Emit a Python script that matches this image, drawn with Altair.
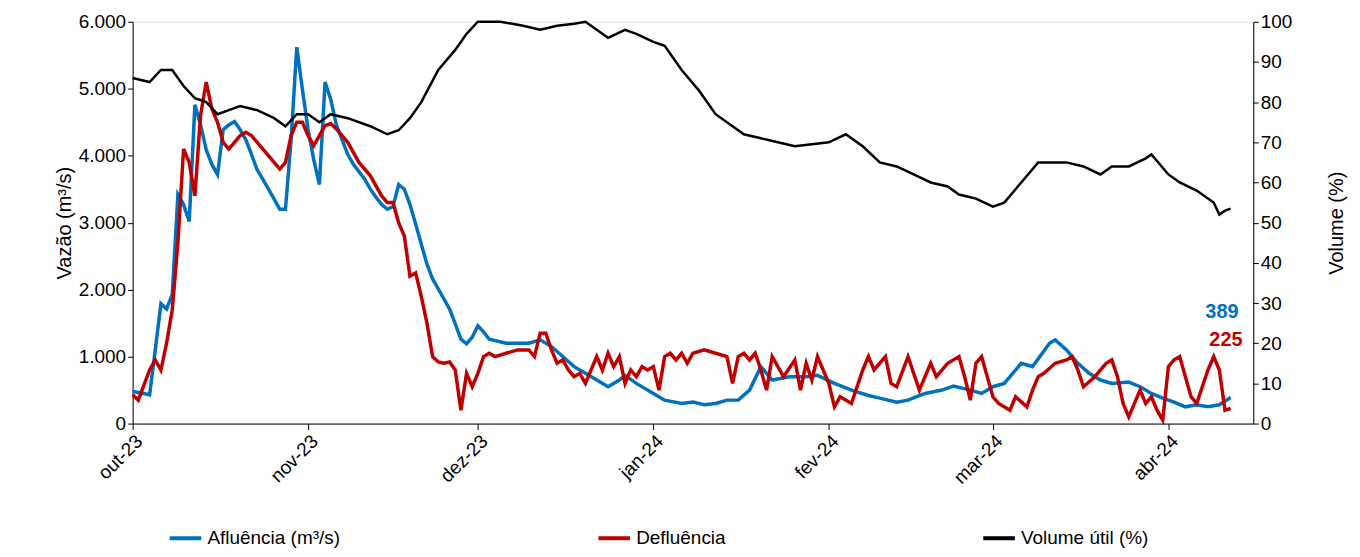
import altair as alt
import pandas as pd

afl_dates = ["2023-10-01","2023-10-03","2023-10-04","2023-10-05","2023-10-06","2023-10-07","2023-10-08","2023-10-09","2023-10-10","2023-10-11","2023-10-12","2023-10-13","2023-10-14","2023-10-15","2023-10-16","2023-10-17","2023-10-18","2023-10-19","2023-10-20","2023-10-21","2023-10-22","2023-10-23","2023-10-24","2023-10-25","2023-10-26","2023-10-27","2023-10-28","2023-10-29","2023-10-30","2023-10-31","2023-11-01","2023-11-02","2023-11-03","2023-11-04","2023-11-05","2023-11-06","2023-11-07","2023-11-08","2023-11-09","2023-11-10","2023-11-11","2023-11-12","2023-11-13","2023-11-14","2023-11-15","2023-11-16","2023-11-17","2023-11-18","2023-11-19","2023-11-20","2023-11-21","2023-11-22","2023-11-23","2023-11-24","2023-11-25","2023-11-26","2023-11-27","2023-11-28","2023-11-29","2023-11-30","2023-12-01","2023-12-02","2023-12-03","2023-12-06","2023-12-10","2023-12-12","2023-12-14","2023-12-18","2023-12-20","2023-12-22","2023-12-24","2023-12-26","2023-12-27","2023-12-29","2024-01-01","2024-01-03","2024-01-06","2024-01-08","2024-01-10","2024-01-12","2024-01-14","2024-01-16","2024-01-18","2024-01-20","2024-01-22","2024-01-25","2024-01-28","2024-01-30","2024-02-02","2024-02-05","2024-02-08","2024-02-10","2024-02-13","2024-02-15","2024-02-18","2024-02-21","2024-02-23","2024-02-26","2024-02-28","2024-03-01","2024-03-03","2024-03-06","2024-03-08","2024-03-11","2024-03-12","2024-03-14","2024-03-16","2024-03-18","2024-03-20","2024-03-22","2024-03-25","2024-03-27","2024-03-29","2024-03-31","2024-04-02","2024-04-04","2024-04-06","2024-04-08","2024-04-10","2024-04-12"]
afl_vals = [480,450,430,1100,1790,1710,1930,3420,3270,3020,4760,4460,4090,3870,3720,4390,4460,4510,4390,4240,4020,3790,3650,3500,3350,3200,3200,4240,5620,4990,4390,3940,3570,5100,4840,4460,4240,4020,3870,3760,3650,3500,3380,3270,3200,3240,3570,3500,3270,2980,2680,2380,2160,2010,1860,1710,1490,1260,1190,1290,1460,1370,1260,1200,1200,1250,1150,850,750,650,550,650,720,600,450,350,300,320,280,300,350,350,500,850,650,700,700,720,600,500,420,380,320,350,450,500,560,500,450,550,600,900,850,1200,1250,1100,900,750,650,600,620,550,450,380,320,250,280,250,280,389]

def_dates = ["2023-10-01","2023-10-02","2023-10-04","2023-10-05","2023-10-06","2023-10-07","2023-10-08","2023-10-09","2023-10-10","2023-10-11","2023-10-12","2023-10-13","2023-10-14","2023-10-15","2023-10-16","2023-10-17","2023-10-18","2023-10-19","2023-10-20","2023-10-21","2023-10-22","2023-10-23","2023-10-25","2023-10-27","2023-10-28","2023-10-29","2023-10-30","2023-10-31","2023-11-01","2023-11-02","2023-11-03","2023-11-04","2023-11-05","2023-11-06","2023-11-08","2023-11-10","2023-11-12","2023-11-14","2023-11-15","2023-11-16","2023-11-17","2023-11-18","2023-11-19","2023-11-20","2023-11-21","2023-11-22","2023-11-23","2023-11-24","2023-11-25","2023-11-26","2023-11-27","2023-11-28","2023-11-29","2023-11-30","2023-12-01","2023-12-02","2023-12-03","2023-12-04","2023-12-06","2023-12-08","2023-12-10","2023-12-11","2023-12-12","2023-12-13","2023-12-14","2023-12-15","2023-12-16","2023-12-17","2023-12-18","2023-12-19","2023-12-20","2023-12-22","2023-12-23","2023-12-24","2023-12-25","2023-12-26","2023-12-27","2023-12-28","2023-12-29","2023-12-30","2023-12-31","2024-01-01","2024-01-02","2024-01-03","2024-01-04","2024-01-05","2024-01-06","2024-01-07","2024-01-08","2024-01-10","2024-01-12","2024-01-14","2024-01-15","2024-01-16","2024-01-17","2024-01-18","2024-01-19","2024-01-20","2024-01-21","2024-01-22","2024-01-24","2024-01-26","2024-01-27","2024-01-28","2024-01-29","2024-01-30","2024-02-01","2024-02-02","2024-02-03","2024-02-05","2024-02-07","2024-02-08","2024-02-09","2024-02-11","2024-02-12","2024-02-13","2024-02-15","2024-02-17","2024-02-19","2024-02-20","2024-02-22","2024-02-24","2024-02-25","2024-02-26","2024-02-27","2024-02-28","2024-02-29","2024-03-01","2024-03-02","2024-03-04","2024-03-05","2024-03-07","2024-03-08","2024-03-09","2024-03-10","2024-03-12","2024-03-14","2024-03-15","2024-03-16","2024-03-17","2024-03-19","2024-03-21","2024-03-22","2024-03-23","2024-03-24","2024-03-25","2024-03-27","2024-03-28","2024-03-29","2024-03-30","2024-03-31","2024-04-01","2024-04-02","2024-04-03","2024-04-04","2024-04-05","2024-04-06","2024-04-07","2024-04-08","2024-04-09","2024-04-10","2024-04-11","2024-04-12"]
def_vals = [430,350,800,950,800,1200,1700,2700,4100,3900,3400,4600,5100,4700,4500,4200,4100,4200,4300,4350,4300,4200,4000,3800,3900,4300,4500,4500,4300,4150,4300,4450,4480,4400,4200,3900,3700,3400,3300,3300,3000,2800,2200,2250,1900,1500,1000,920,900,920,800,200,750,550,750,1000,1050,1000,1050,1100,1100,1000,1350,1350,1100,900,950,800,700,750,600,1000,800,1050,850,1000,600,800,700,850,800,850,500,1000,1050,950,1050,900,1050,1100,1050,1000,600,1000,1050,950,1050,800,500,1000,700,950,500,900,650,1000,600,250,400,300,800,1000,800,1000,600,550,1000,500,900,700,900,1000,700,350,900,1000,700,400,300,200,400,250,500,700,750,900,950,1000,800,550,700,900,950,700,300,100,500,300,400,200,50,850,950,1000,700,400,300,550,800,1000,800,200,225]

vol_dates = ["2023-10-01","2023-10-04","2023-10-06","2023-10-08","2023-10-10","2023-10-12","2023-10-14","2023-10-16","2023-10-18","2023-10-20","2023-10-23","2023-10-26","2023-10-28","2023-10-30","2023-11-01","2023-11-03","2023-11-05","2023-11-08","2023-11-12","2023-11-15","2023-11-17","2023-11-19","2023-11-21","2023-11-24","2023-11-27","2023-11-29","2023-12-01","2023-12-05","2023-12-09","2023-12-12","2023-12-15","2023-12-18","2023-12-20","2023-12-22","2023-12-24","2023-12-27","2023-12-29","2024-01-01","2024-01-03","2024-01-06","2024-01-09","2024-01-12","2024-01-14","2024-01-17","2024-01-20","2024-01-23","2024-01-26","2024-01-29","2024-02-01","2024-02-04","2024-02-07","2024-02-10","2024-02-13","2024-02-16","2024-02-19","2024-02-22","2024-02-24","2024-02-27","2024-03-01","2024-03-03","2024-03-06","2024-03-09","2024-03-11","2024-03-14","2024-03-17","2024-03-20","2024-03-22","2024-03-25","2024-03-28","2024-03-29","2024-04-01","2024-04-03","2024-04-06","2024-04-09","2024-04-10","2024-04-11","2024-04-12"]
vol_vals = [86,85,88,88,84,81,80,77,78,79,78,76,74,77,77,75,77,76,74,72,73,76,80,88,93,97,100,100,99,98,99,99.5,100,98,96,98,97,95,94,88,83,77,75,72,71,70,69,69.5,70,72,69,65,64,62,60,59,57,56,54,55,60,65,65,65,64,62,64,64,66,67,62,60,58,55,52,53,53.5]

names = ["Afluência (m³/s)", "Defluência", "Volume útil (%)"]
colors = ["#0070C0", "#C00000", "#000000"]

flow = pd.concat([
    pd.DataFrame({"date": afl_dates, "v": afl_vals, "s": names[0]}),
    pd.DataFrame({"date": def_dates, "v": def_vals, "s": names[1]}),
])
vol = pd.DataFrame({"date": vol_dates, "v": vol_vals, "s": names[2]})
lab_afl = pd.DataFrame({"date": ["2024-04-12"], "v": [389], "t": ["389"]})
lab_def = pd.DataFrame({"date": ["2024-04-12"], "v": [225], "t": ["225"]})

months = "['jan','fev','mar','abr','mai','jun','jul','ago','set','out','nov','dez']"
xenc = alt.X("date:T", scale=alt.Scale(type="utc", domain=["2023-10-01", "2024-04-16"]),
             axis=alt.Axis(title=None, tickCount={"interval": "month", "step": 1},
                           labelExpr=f"{months}[utcmonth(datum.value)] + '-' + utcFormat(datum.value, '%y')",
                           labelAngle=-45, labelFontSize=19, grid=False, tickSize=6,
                           labelColor="black", domainColor="black", tickColor="black"))
color = alt.Color("s:N", scale=alt.Scale(domain=names, range=colors),
                  legend=alt.Legend(title=None, orient="none", direction="horizontal",
                                    legendX=35, legendY=500,
                                    labelFontSize=19, symbolType="stroke", symbolStrokeWidth=4,
                                    symbolSize=1000, columnPadding=250, labelColor="black"))
yflow = alt.Scale(domain=[0, 6000])

left = alt.Chart(flow).mark_line(strokeWidth=3.5).encode(
    x=xenc,
    y=alt.Y("v:Q", scale=yflow,
            axis=alt.Axis(title="Vazão (m³/s)", titleFontSize=20, titleFontWeight="normal",
                          labelFontSize=19, grid=False, tickCount=6, labelColor="black",
                          titleColor="black", domainColor="black", tickColor="black",
                          labelExpr="replace(format(datum.value, ',.0f'), ',', '.')")),
    color=color, detail="s:N")

t1 = alt.Chart(lab_afl).mark_text(fontSize=20, fontWeight="bold", align="right", dy=-86, dx=8,
                                  color="#0070C0").encode(x="date:T", y=alt.Y("v:Q", scale=yflow), text="t:N")
t2 = alt.Chart(lab_def).mark_text(fontSize=20, fontWeight="bold", align="right", dy=-69, dx=12,
                                  color="#C00000").encode(x="date:T", y=alt.Y("v:Q", scale=yflow), text="t:N")

right = alt.Chart(vol).mark_line(strokeWidth=2.5).encode(
    x=xenc,
    y=alt.Y("v:Q", scale=alt.Scale(domain=[0, 100]),
            axis=alt.Axis(title="Volume (%)", titleFontSize=20, titleFontWeight="normal",
                          labelFontSize=19, grid=False, tickCount=10, orient="right",
                          titleAngle=270, titlePadding=55,
                          labelColor="black", titleColor="black", domainColor="black",
                          tickColor="black")),
    color=color)

chart = alt.layer(alt.layer(left, t1, t2), right).resolve_scale(y="independent").properties(
    width=1124, height=403
).configure_view(stroke=None).configure_axis(labelFont="Liberation Sans", titleFont="Liberation Sans"
).configure_legend(labelFont="Liberation Sans").configure(padding={"left": 46, "top": 4, "right": 5, "bottom": 0})

chart.save("out.html", embed_options={"renderer": "svg", "actions": False})
